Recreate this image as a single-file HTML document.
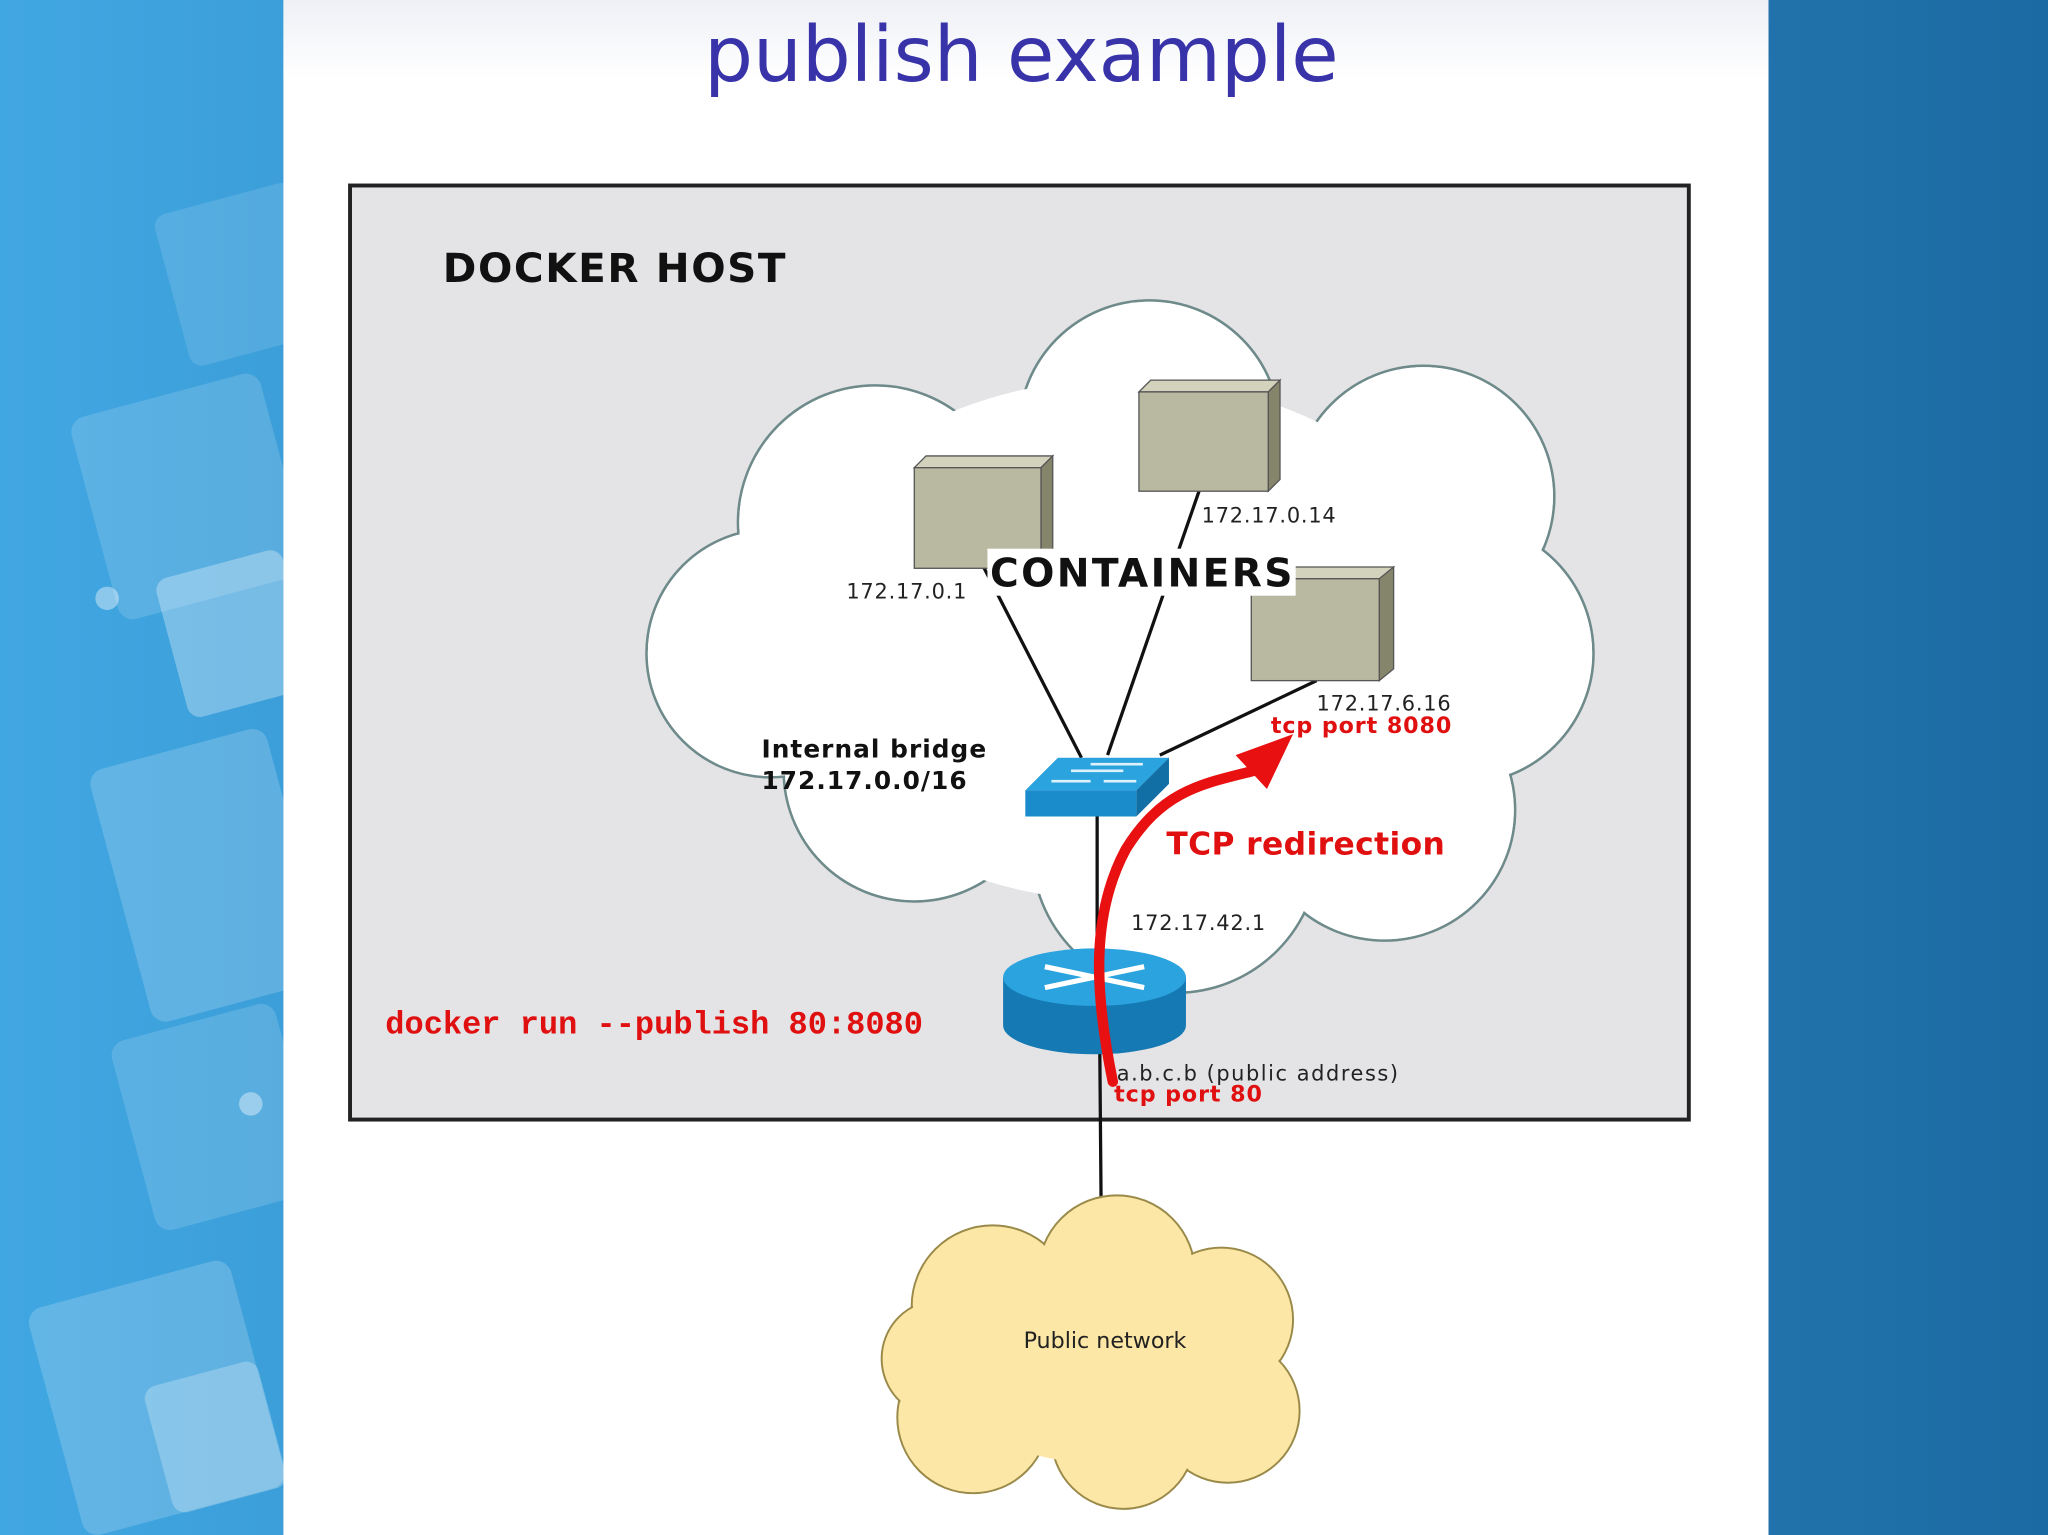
<!DOCTYPE html>
<html><head><meta charset="utf-8"><style>
html,body{margin:0;padding:0;width:2048px;height:1535px;overflow:hidden}
svg{display:block}
text{font-family:"DejaVu Sans","Liberation Sans",sans-serif}
</style></head><body>
<svg width="2048" height="1535" viewBox="0 0 1568 1175" preserveAspectRatio="none" xmlns="http://www.w3.org/2000/svg">
<defs>
<linearGradient id="bg" x1="0" x2="1" y1="0" y2="0"><stop offset="0" stop-color="#41a7e2"/><stop offset="1" stop-color="#1c6aa3"/></linearGradient>
<linearGradient id="top" x1="0" x2="0" y1="0" y2="1"><stop offset="0" stop-color="#eef0f6"/><stop offset="1" stop-color="#ffffff"/></linearGradient>
</defs>
<rect width="1568" height="1175" fill="url(#bg)"/>
<g fill="#ffffff">
<rect x="130" y="150" width="110" height="120" rx="10" opacity="0.12" transform="rotate(-15 185 210)"/>
<rect x="70" y="300" width="150" height="160" rx="12" opacity="0.15" transform="rotate(-15 145 380)"/>
<rect x="130" y="430" width="100" height="110" rx="10" opacity="0.3" transform="rotate(-15 180 485)"/>
<rect x="90" y="570" width="140" height="200" rx="12" opacity="0.18" transform="rotate(-15 160 670)"/>
<rect x="100" y="780" width="130" height="150" rx="12" opacity="0.15" transform="rotate(-15 165 855)"/>
<rect x="40" y="980" width="160" height="180" rx="12" opacity="0.18" transform="rotate(-15 120 1070)"/>
<rect x="120" y="1050" width="90" height="100" rx="10" opacity="0.25" transform="rotate(-15 165 1100)"/>
<circle cx="82" cy="458" r="9" opacity="0.4"/>
<circle cx="192" cy="845" r="9" opacity="0.4"/>
</g>
<rect x="217" y="0" width="1137" height="1175" fill="#fff"/>
<rect x="217" y="0" width="1137" height="60" fill="url(#top)"/>
<text x="782" y="62" font-size="59" fill="#3833a8" text-anchor="middle">publish example</text>
<rect x="268" y="142" width="1025" height="715" fill="#e4e4e6" stroke="#222" stroke-width="3"/>
<text x="339" y="216" font-size="31" font-weight="bold" fill="#111" letter-spacing="1.2">DOCKER HOST</text>
<g fill="#fff" stroke="#6e8a8a" stroke-width="2">
<circle cx="880" cy="330" r="100"/><circle cx="1090" cy="380" r="100"/><circle cx="1120" cy="500" r="100"/>
<circle cx="1060" cy="620" r="100"/><circle cx="900" cy="650" r="110"/><circle cx="700" cy="590" r="100"/>
<circle cx="590" cy="500" r="95"/><circle cx="670" cy="400" r="105"/>
</g>
<g fill="#fff">
<circle cx="880" cy="330" r="99"/><circle cx="1090" cy="380" r="99"/><circle cx="1120" cy="500" r="99"/>
<circle cx="1060" cy="620" r="99"/><circle cx="900" cy="650" r="109"/><circle cx="700" cy="590" r="99"/>
<circle cx="590" cy="500" r="94"/><circle cx="670" cy="400" r="104"/>
<ellipse cx="860" cy="490" rx="270" ry="200"/>
</g>
<g stroke="#111" stroke-width="2.5" fill="none">
<line x1="828" y1="580" x2="752" y2="432"/>
<line x1="848" y1="578" x2="918" y2="376"/>
<line x1="888" y1="578" x2="1008" y2="521"/>
<line x1="840" y1="620" x2="840" y2="740"/>
<line x1="842" y1="800" x2="843" y2="918"/>
</g>
<g stroke="#555" stroke-width="1">
<polygon points="700,358 709,349 806,349 797,358" fill="#d2d2bd"/>
<polygon points="797,358 806,349 806,426 797,435" fill="#85856c"/>
<rect x="700" y="358" width="97" height="77" fill="#b9b9a1"/>
<polygon points="872,300 881,291 980,291 971,300" fill="#d2d2bd"/>
<polygon points="971,300 980,291 980,367 971,376" fill="#85856c"/>
<rect x="872" y="300" width="99" height="76" fill="#b9b9a1"/>
<polygon points="958,443 967,434 1067,434 1058,443" fill="#d2d2bd"/>
<polygon points="1056,443 1067,434 1067,512 1056,521" fill="#85856c"/>
<rect x="958" y="443" width="98" height="78" fill="#b9b9a1"/>
</g>
<rect x="756" y="420" width="236" height="36" fill="#fff"/>
<text x="758" y="449" font-size="30" font-weight="bold" fill="#111" letter-spacing="1.8">CONTAINERS</text>
<g font-size="16" fill="#222" letter-spacing="0.6">
<text x="648" y="458">172.17.0.1</text>
<text x="920" y="400">172.17.0.14</text>
<text x="1008" y="544">172.17.6.16</text>
<text x="866" y="712">172.17.42.1</text>
<text x="855" y="827" letter-spacing="1.2">a.b.c.b  (public address)</text>
</g>
<text x="973" y="561" font-size="17" font-weight="bold" fill="#e01010" letter-spacing="0.7">tcp port 8080</text>
<text x="853" y="843" font-size="17" font-weight="bold" fill="#e01010" letter-spacing="0.7">tcp port 80</text>
<text x="583" y="580" font-size="19" font-weight="bold" fill="#111" letter-spacing="0.8">Internal bridge</text>
<text x="583" y="604" font-size="19" font-weight="bold" fill="#111" letter-spacing="0.8">172.17.0.0/16</text>
<polygon points="785,605 810,580 895,580 870,605" fill="#2aa3de"/>
<polygon points="785,605 870,605 870,625 785,625" fill="#1a8ccb"/>
<polygon points="870,605 895,580 895,600 870,625" fill="#116fa6"/>
<g stroke="#dff2fb" stroke-width="2"><line x1="805" y1="598" x2="835" y2="598"/><line x1="820" y1="590" x2="860" y2="590"/><line x1="845" y1="598" x2="870" y2="598"/><line x1="835" y1="585" x2="875" y2="585"/></g>
<path d="M768,748 L768,785 A70,22 0 0 0 908,785 L908,748 Z" fill="#1579b3"/>
<ellipse cx="838" cy="748" rx="70" ry="22" fill="#2aa3de"/>
<g stroke="#fff" stroke-width="4"><line x1="800" y1="740" x2="876" y2="756"/><line x1="800" y1="756" x2="876" y2="740"/></g>
<path d="M852,828 C838,760 835,700 862,650 C890,605 920,600 960,590" fill="none" stroke="#e81010" stroke-width="8" stroke-linecap="round"/>
<polygon points="990,562 946,578 970,604" fill="#e81010"/>
<text x="893" y="654" font-size="24" font-weight="bold" fill="#e01010" letter-spacing="0.3">TCP redirection</text>
<text x="295" y="791" font-size="24.5" font-weight="bold" fill="#e01010" style="font-family:'Liberation Mono',monospace">docker run --publish 80:8080</text>
<g fill="#fde7a6" stroke="#9a8a4a" stroke-width="1.5">
<circle cx="760" cy="1000" r="62"/><circle cx="855" cy="975" r="60"/><circle cx="935" cy="1010" r="55"/>
<circle cx="940" cy="1080" r="55"/><circle cx="860" cy="1100" r="55"/><circle cx="745" cy="1085" r="58"/><circle cx="720" cy="1040" r="45"/>
</g>
<g fill="#fde7a6">
<circle cx="760" cy="1000" r="61"/><circle cx="855" cy="975" r="59"/><circle cx="935" cy="1010" r="54"/>
<circle cx="940" cy="1080" r="54"/><circle cx="860" cy="1100" r="54"/><circle cx="745" cy="1085" r="57"/><circle cx="720" cy="1040" r="44"/>
<ellipse cx="840" cy="1040" rx="120" ry="80"/>
</g>
<text x="846" y="1032" font-size="17" fill="#222" text-anchor="middle">Public network</text>
</svg>
</body></html>
